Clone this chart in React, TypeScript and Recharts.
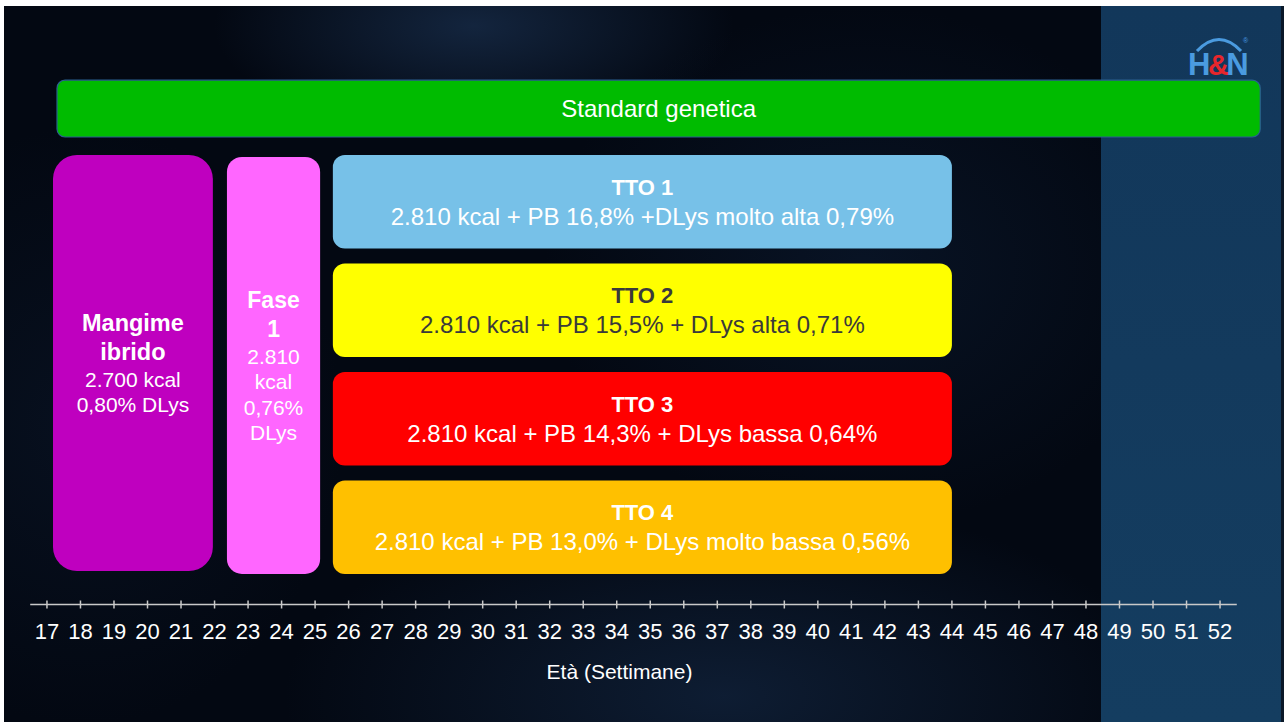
import { ComposedChart, XAxis, YAxis, ReferenceArea, Label } from 'recharts';

// Age axis, in weeks
const weeks = [
  17, 18, 19, 20, 21, 22, 23, 24, 25, 26, 27, 28, 29, 30, 31, 32, 33, 34,
  35, 36, 37, 38, 39, 40, 41, 42, 43, 44, 45, 46, 47, 48, 49, 50, 51, 52,
];

// Feeding phases: start / end week
const standardStart = 17.3;
const standardEnd = 53.2;
const hybridStart = 17.18;
const hybridEnd = 21.95;
const phase1Start = 22.37;
const phase1End = 25.15;
const ttoStart = 25.53;
const ttoEnd = 44;

const ttoNames = ['TTO 1', 'TTO 2', 'TTO 3', 'TTO 4'];
const ttoDiets = [
  '2.810 kcal + PB 16,8% +DLys molto alta 0,79%',
  '2.810 kcal + PB 15,5% + DLys alta 0,71%',
  '2.810 kcal + PB 14,3% + DLys bassa 0,64%',
  '2.810 kcal + PB 13,0% + DLys molto bassa 0,56%',
];
const hybridTitle = ['Mangime', 'ibrido'];
const hybridDiet = ['2.700 kcal', '0,80% DLys'];
const phase1Title = ['Fase', '1'];
const phase1Diet = ['2.810', 'kcal', '0,76%', 'DLys'];

const ttoColors = ['#77c1e8', '#ffff00', '#ff0000', '#ffc000'];
const ttoText = ['#ffffff', '#3a3a3a', '#ffffff', '#ffffff'];

const FONT = '"Liberation Sans", Arial, Helvetica, sans-serif';
const LANE_H = 0.862; // height of one treatment lane (lane pitch = 1)

type TextLine = { text: string; bold: boolean; size: number; lh: number };

function boxShape(fill: string, radius: number, color: string, lines: TextLine[], stroke?: string) {
  return (p: any) => {
    const { x, y, width, height } = p;
    const cx = x + width / 2;
    const total = lines.reduce((s, l) => s + l.lh, 0);
    let cur = y + height / 2 - total / 2;
    return (
      <g>
        <rect
          x={x}
          y={y}
          width={width}
          height={height}
          rx={radius}
          ry={radius}
          fill={fill}
          stroke={stroke ?? 'none'}
          strokeWidth={stroke ? 1.2 : 0}
        />
        {lines.map((l, i) => {
          const ty = cur + l.lh / 2;
          cur += l.lh;
          return (
            <text
              key={i}
              x={cx}
              y={ty}
              textAnchor="middle"
              dominantBaseline="central"
              fill={color}
              fontSize={l.size}
              fontWeight={l.bold ? 700 : 400}
            >
              {l.text}
            </text>
          );
        })}
      </g>
    );
  };
}

function WeekTick(props: any) {
  const { x, y, payload } = props;
  return (
    <g>
      <line x1={x} x2={x} y1={y - 4} y2={y + 4} stroke="#c9c9c9" strokeWidth={1.5} />
      <text x={x} y={y + 27} textAnchor="middle" dominantBaseline="central" fill="#ffffff" fontSize={22}>
        {payload.value}
      </text>
    </g>
  );
}

function Logo() {
  return (
    <svg width={80} height={60} style={{ position: 'absolute', left: 1180, top: 30 }}>
      <path d="M 17 21 Q 39 -2 61 21" fill="none" stroke="#4a9be0" strokeWidth={3} />
      <text x={8} y={45} fontFamily={FONT} fontWeight={700} fontSize={31} fill="#4a9be0" letterSpacing={-2.5}>
        H<tspan fill="#e8262c" fontSize={29}>&amp;</tspan>N
      </text>
      <text x={63} y={13} fontFamily={FONT} fontSize={7} fill="#4a9be0">
        ®
      </text>
    </svg>
  );
}

export default function App() {
  const data = weeks.map((w) => ({ week: w }));
  const bold = (text: string, size = 23): TextLine => ({ text, bold: true, size, lh: 29 });
  const reg = (text: string, size = 21, lh = 25.5): TextLine => ({ text, bold: false, size, lh });

  return (
    <div
      style={{
        position: 'fixed',
        left: 0,
        top: 0,
        width: 1284,
        height: 722,
        background: '#ffffff',
        fontFamily: FONT,
        overflow: 'hidden',
      }}
    >
      <div
        style={{
          position: 'absolute',
          left: 4,
          top: 6,
          width: 1280,
          height: 716,
          background: [
            'radial-gradient(ellipse 260px 110px at 470px 20px, rgba(35,65,105,0.5), rgba(0,0,0,0))',
            'radial-gradient(ellipse 440px 200px at 720px 690px, rgba(30,60,100,0.4), rgba(0,0,0,0))',
            'radial-gradient(ellipse 320px 260px at 860px 260px, rgba(20,45,80,0.3), rgba(0,0,0,0))',
            'radial-gradient(ellipse 260px 300px at 80px 420px, rgba(20,40,70,0.25), rgba(0,0,0,0))',
            '#030812',
          ].join(','),
        }}
      />
      <div
        style={{
          position: 'absolute',
          left: 1101,
          top: 6,
          width: 180,
          height: 716,
          background: 'linear-gradient(180deg, #12375a 0%, #143d60 100%)',
        }}
      />
      <div style={{ position: 'absolute', left: 1281, top: 6, width: 3, height: 716, background: '#0a1828' }} />
      <Logo />
      <div style={{ position: 'absolute', left: 0, top: 0 }}>
        <ComposedChart width={1284} height={722} data={data} margin={{ top: 46.5, right: 47.2, bottom: 0, left: 30.2 }}>
          <XAxis
            dataKey="week"
            type="number"
            domain={[16.5, 52.5]}
            ticks={weeks}
            interval={0}
            allowDataOverflow
            tickLine={false}
            tickSize={0}
            tickMargin={0}
            height={117.5}
            axisLine={{ stroke: '#c9c9c9', strokeWidth: 1.5 }}
            tick={<WeekTick />}
          >
            <Label value="Età (Settimane)" position="insideBottom" offset={43} dx={-14} fill="#ffffff" fontSize={21} />
          </XAxis>
          <YAxis type="number" domain={[-1, 4.143]} reversed hide allowDataOverflow />

          <ReferenceArea
            x1={standardStart}
            x2={standardEnd}
            y1={-0.69}
            y2={-0.166}
            ifOverflow="visible"
            shape={boxShape('#00bb00', 8, '#ffffff', [reg('Standard genetica', 24, 30)], '#2a5f8f')}
          />
          <ReferenceArea
            x1={hybridStart}
            x2={hybridEnd}
            y1={0}
            y2={3.834}
            ifOverflow="visible"
            shape={boxShape('#bf00bf', 24, '#ffffff', [...hybridTitle.map((t) => bold(t, 23.5)), ...hybridDiet.map((t) => reg(t))])}
          />
          <ReferenceArea
            x1={phase1Start}
            x2={phase1End}
            y1={0.018}
            y2={3.862}
            ifOverflow="visible"
            shape={boxShape('#ff66ff', 15, '#ffffff', [...phase1Title.map((t) => bold(t, 23)), ...phase1Diet.map((t) => reg(t))])}
          />
          {ttoNames.map((name, i) => (
            <ReferenceArea
              key={name}
              x1={ttoStart}
              x2={ttoEnd}
              y1={i}
              y2={i + LANE_H}
              ifOverflow="visible"
              shape={boxShape(ttoColors[i], 12, ttoText[i], [bold(name, 22), reg(ttoDiets[i], 24, 29)])}
            />
          ))}
        </ComposedChart>
      </div>
    </div>
  );
}
